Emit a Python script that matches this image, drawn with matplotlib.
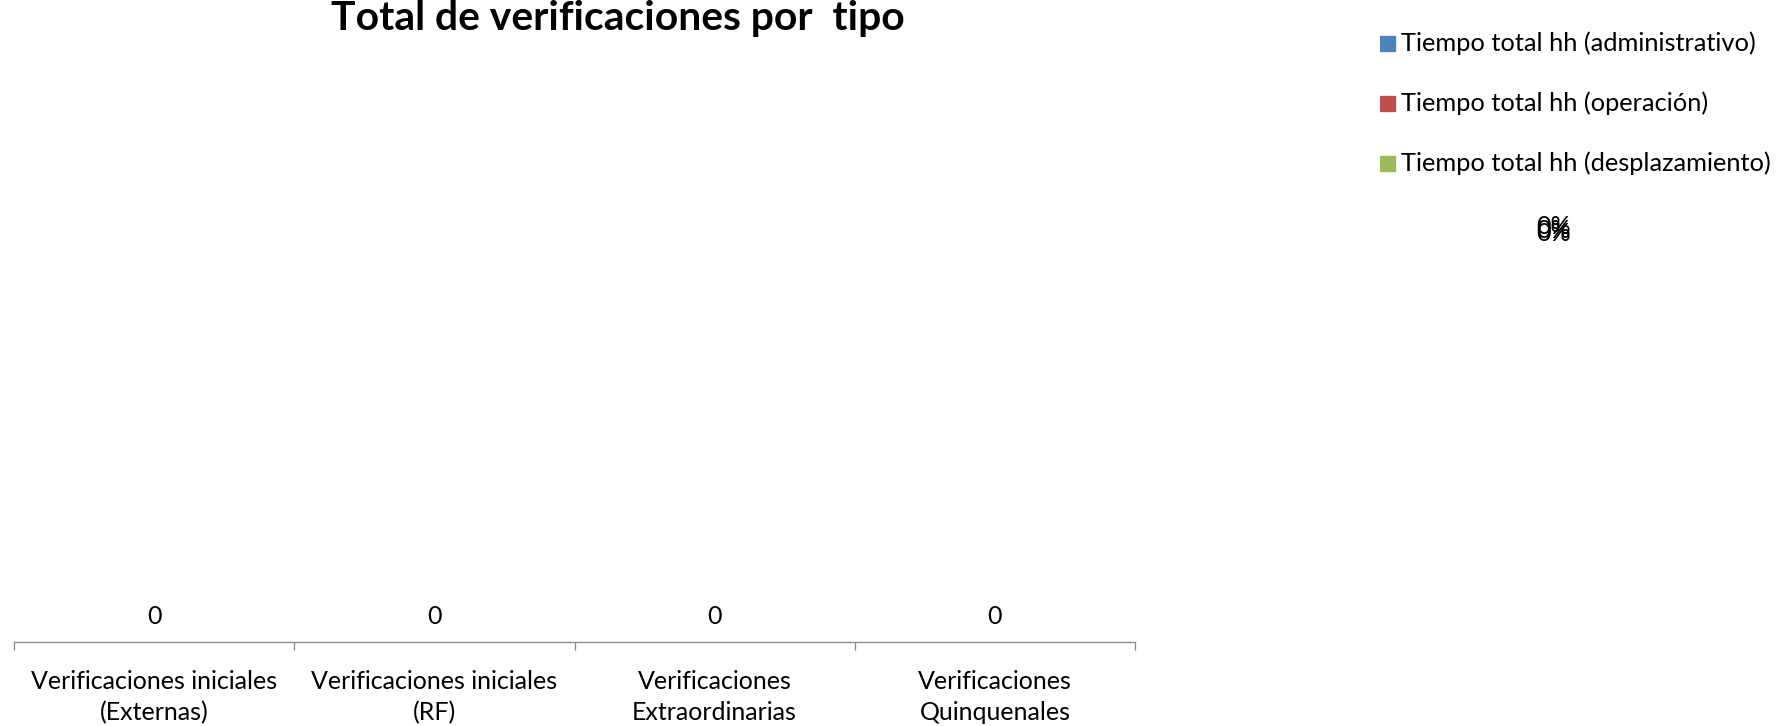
import numpy as np
from matplotlib import pyplot as plt

# Datos del grafico de barras
categorias = ['Verificaciones iniciales\n(Externas)', 'Verificaciones iniciales\n(RF)',
              'Verificaciones\nExtraordinarias', 'Verificaciones\nQuinquenales']
totales = [0, 0, 0, 0]

# Datos del grafico circular (todo en cero)
series_tiempo = ['Tiempo total hh (administrativo)', 'Tiempo total hh (operación)',
                 'Tiempo total hh (desplazamiento)']
horas_tiempo = [0, 0, 0]
colores_tiempo = ['#4F81BD', '#C0504D', '#9BBB59']

plt.rcParams['font.family'] = ['Lato', 'DejaVu Sans']

fig = plt.figure(figsize=(17.76, 7.26), dpi=100)
ax = fig.add_axes([0.0079, 0.1157, 0.6312, 0.78])

x = np.arange(len(categorias))
barras = ax.bar(x, totales, width=0.6, color='#4F81BD')
ax.bar_label(barras, labels=[str(v) for v in totales], padding=10, fontsize=18)

ax.set_xlim(-0.5, len(categorias) - 0.5)
ax.set_ylim(0, 1)
ax.set_xticks(x)
ax.set_xticklabels(categorias, fontsize=18, linespacing=1.42)
ax.set_xticks(np.arange(len(categorias) + 1) - 0.5, minor=True)
ax.tick_params(axis='x', which='major', length=0, pad=20)
ax.tick_params(axis='x', which='minor', length=6, width=0.9, color='#868686')
ax.set_yticks([])
for lado in ['left', 'right', 'top']:
    ax.spines[lado].set_visible(False)
ax.spines['bottom'].set_color('#868686')
ax.spines['bottom'].set_linewidth(0.9)

fig.text(618 / 1776, 1 - 30 / 726, 'Total de verificaciones por  tipo',
         ha='center', va='baseline', fontsize=29.4, fontweight='bold')

# Leyenda de la serie de tiempo
leyenda = fig.add_axes([1380 / 1776, 1 - 175 / 726, 390 / 1776, 150 / 726])
leyenda.set_xlim(0, 390)
leyenda.set_ylim(150, 0)
leyenda.axis('off')
for i, (nombre, color) in enumerate(zip(series_tiempo, colores_tiempo)):
    yc = 18 + 60 * i
    leyenda.add_patch(plt.Rectangle((0, yc - 7.5), 15, 15, color=color))
    leyenda.text(21, yc, nombre, va='center', ha='left', fontsize=18.3)

# Etiquetas de porcentaje del circular (valores en cero, se superponen)
total_horas = sum(horas_tiempo) or 1
for i, h in enumerate(horas_tiempo):
    fig.text(1554 / 1776, 1 - (227 + 3 * i) / 726, f'{h / total_horas:.0%}',
             ha='center', va='center', fontsize=18)

fig.savefig('out.png', dpi=100)
